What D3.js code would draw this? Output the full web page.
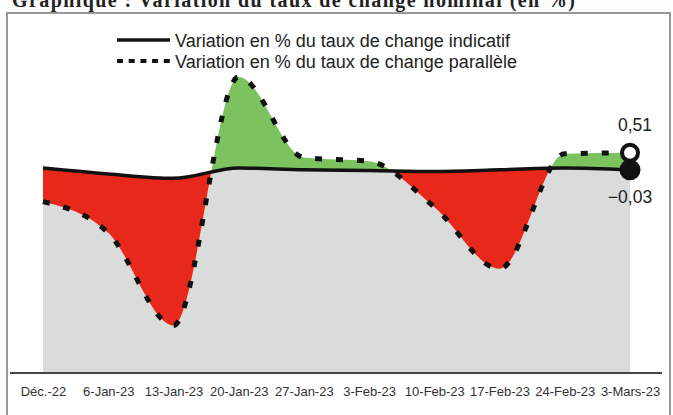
<!DOCTYPE html>
<html>
<head>
<meta charset="utf-8">
<script src="https://cdn.jsdelivr.net/npm/d3@7"></script>
<style>
  body { margin: 0; background: #fdfdfd; }
  text { font-family: "Liberation Sans", Arial, sans-serif; }
</style>
</head>
<body>
<script>
// data (% variation)
var dates = ["Déc.-22", "6-Jan-23", "13-Jan-23", "20-Jan-23", "27-Jan-23", "3-Feb-23", "10-Feb-23", "17-Feb-23", "24-Feb-23", "3-Mars-23"];
var indicatif = [0.03, -0.16, -0.30, 0.03, -0.03, -0.05, -0.08, -0.03, 0.03, -0.03];
var parallele = [-1.04, -2.03, -4.97, 2.92, 0.36, 0.24, -1.21, -3.17, 0.48, 0.51];
var legendLabels = ["Variation en % du taux de change indicatif", "Variation en % du taux de change parallèle"];
var title = "Graphique : Variation du taux de change nominal (en %)";

var width = 673, height = 415;

var svg = d3.select("body").append("svg")
    .attr("width", width)
    .attr("height", height);

// outer frame
svg.append("rect")
    .attr("x", 7).attr("y", 13)
    .attr("width", 663).attr("height", 430)
    .attr("fill", "#fefefe")
    .attr("stroke", "#777")
    .attr("stroke-width", 1.5);

// title, cut by the top of the picture as in the scan
svg.append("text")
    .attr("x", 12).attr("y", 7)
    .attr("textLength", 563)
    .attr("lengthAdjust", "spacing")
    .style("font-family", "'Liberation Serif', 'Times New Roman', serif")
    .style("font-weight", "bold")
    .style("font-size", "20px")
    .attr("fill", "#222")
    .text(title);

var x = d3.scalePoint().domain(dates).range([43, 630]);
var y = d3.scaleLinear().domain([-6.45, 4.95]).range([372, 13]);

var data = dates.map(function(d, i) {
  return {date: d, ind: indicatif[i], par: parallele[i]};
});
var curve = d3.curveMonotoneX;
var px = function(d) { return x(d.date); };

var defs = svg.append("defs");
defs.append("clipPath").attr("id", "above")
  .append("path").datum(data)
    .attr("d", d3.area().x(px).y0(0).y1(function(d) { return y(d.ind); }).curve(curve));
defs.append("clipPath").attr("id", "below")
  .append("path").datum(data)
    .attr("d", d3.area().x(px).y0(height).y1(function(d) { return y(d.ind); }).curve(curve));

// grey area under the indicative rate
svg.append("path").datum(data)
    .attr("fill", "#d9dcdb")
    .attr("d", d3.area().x(px).y0(y(-6.45)).y1(function(d) { return y(d.ind); }).curve(curve));

var between = d3.area().x(px)
    .y0(function(d) { return y(d.ind); })
    .y1(function(d) { return y(d.par); })
    .curve(curve);

svg.append("path").datum(data)
    .attr("fill", "#7cc35f")
    .attr("clip-path", "url(#above)")
    .attr("d", between);

svg.append("path").datum(data)
    .attr("fill", "#e8281b")
    .attr("clip-path", "url(#below)")
    .attr("d", between);

// lines
svg.append("path").datum(data)
    .attr("fill", "none")
    .attr("stroke", "#111")
    .attr("stroke-width", 3.5)
    .attr("d", d3.line().x(px).y(function(d) { return y(d.ind); }).curve(curve));

svg.append("path").datum(data)
    .attr("fill", "none")
    .attr("stroke", "#111")
    .attr("stroke-width", 5)
    .attr("stroke-dasharray", "7,14")
    .attr("d", d3.line().x(px).y(function(d) { return y(d.par); }).curve(curve));

// end markers and labels
var last = data[data.length - 1];
var fr = d3.formatLocale({decimal: ",", thousands: " ", grouping: [3], currency: ["", ""], minus: "\u2212"}).format(".2f");

svg.append("circle")
    .attr("cx", px(last)).attr("cy", y(last.ind))
    .attr("r", 10.5)
    .attr("fill", "#111");
svg.append("circle")
    .attr("cx", px(last)).attr("cy", y(last.par))
    .attr("r", 8)
    .attr("fill", "#fff")
    .attr("stroke", "#111")
    .attr("stroke-width", 4);

svg.append("text")
    .attr("x", px(last) + 5).attr("y", y(last.par) - 22)
    .attr("text-anchor", "middle")
    .style("font-size", "17.5px")
    .attr("fill", "#222")
    .text(fr(last.par));
svg.append("text")
    .attr("x", px(last)).attr("y", y(last.ind) + 33)
    .attr("text-anchor", "middle")
    .style("font-size", "17.5px")
    .attr("fill", "#222")
    .text(fr(last.ind));

// x axis
svg.append("line")
    .attr("x1", 10).attr("x2", 662)
    .attr("y1", 373).attr("y2", 373)
    .attr("stroke", "#444")
    .attr("stroke-width", 1.8);

var xAxis = svg.append("g")
    .attr("transform", "translate(0,373)")
    .call(d3.axisBottom(x).tickSize(0).tickPadding(14));
xAxis.select(".domain").remove();
xAxis.selectAll("text")
    .style("font-family", "'Liberation Sans', Arial, sans-serif")
    .style("font-size", "13px")
    .attr("fill", "#333");

// legend
var legend = svg.append("g").attr("transform", "translate(117,40)");
legendLabels.forEach(function(label, i) {
  var g = legend.append("g").attr("transform", "translate(0," + (i * 21) + ")");
  g.append("line")
      .attr("x1", 0).attr("x2", 53)
      .attr("stroke", "#111")
      .attr("stroke-width", i === 0 ? 3.5 : 4)
      .attr("stroke-dasharray", i === 0 ? null : "6,5.7");
  g.append("text")
      .attr("x", 58).attr("y", 6.5)
      .style("font-size", "18px")
      .attr("fill", "#222")
      .text(label);
});
</script>
</body>
</html>
